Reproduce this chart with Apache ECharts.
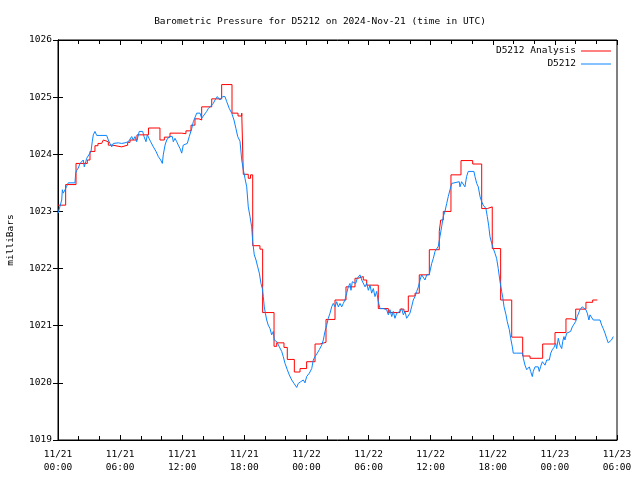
<!DOCTYPE html>
<html>
<head>
<meta charset="utf-8">
<script src="https://cdn.jsdelivr.net/npm/echarts@6/dist/echarts.min.js"></script>
<style>
html,body{margin:0;padding:0;background:#fff;}
#chart{width:640px;height:480px;}
</style>
</head>
<body>
<div id="chart"></div>
<script>
// hours since 2024-11-21 00:00 UTC
const xTickLabels = ['11/21\n00:00','11/21\n06:00','11/21\n12:00','11/21\n18:00','11/22\n00:00','11/22\n06:00','11/22\n12:00','11/22\n18:00','11/23\n00:00','11/23\n06:00'];
const yTicks = [1019,1020,1021,1022,1023,1024,1025,1026];

// D5212 Analysis (step values: [hour, mbar])
const analysisHours = [0.00,0.74,1.74,2.83,3.09,3.57,3.86,4.22,4.38,4.54,4.86,5.25,6.15,6.73,6.96,7.63,8.74,9.85,10.27,10.82,11.95,12.36,12.85,13.23,13.62,13.88,14.85,15.81,16.81,17.39,17.75,17.90,18.38,18.60,18.81,19.51,19.77,20.87,21.13,21.83,22.15,22.83,23.38,24.02,24.83,25.31,25.89,26.76,27.82,28.69,28.98,29.49,29.82,30.94,31.91,33.04,33.42,33.84,34.49,34.90,35.87,36.83,36.97,37.22,37.96,38.93,40.06,40.93,41.47,41.95,42.76,43.83,44.89,45.60,46.82,48.01,49.07,49.62,50.01,51.00,51.65,52.10];
const analysisValues = [1023.11,1023.47,1023.84,1023.90,1024.05,1024.15,1024.19,1024.22,1024.25,1024.22,1024.16,1024.13,1024.16,1024.21,1024.25,1024.34,1024.46,1024.25,1024.30,1024.37,1024.36,1024.41,1024.51,1024.62,1024.60,1024.83,1024.97,1025.22,1024.72,1024.67,1024.72,1023.65,1023.58,1023.64,1022.40,1022.34,1021.23,1020.64,1020.70,1020.62,1020.41,1020.19,1020.25,1020.37,1020.68,1020.71,1021.11,1021.45,1021.68,1021.83,1021.86,1021.80,1021.71,1021.30,1021.23,1021.29,1021.25,1021.52,1021.57,1021.89,1022.33,1022.65,1022.85,1023.00,1023.64,1023.89,1023.83,1023.05,1023.08,1022.35,1021.45,1020.80,1020.47,1020.43,1020.68,1020.88,1021.12,1021.10,1021.29,1021.41,1021.45,1021.45];

// D5212 observations
const obsHours = [0.03,0.10,0.36,0.42,0.51,0.68,0.84,0.99,1.64,1.71,1.81,1.96,2.13,2.29,2.44,2.54,2.68,2.77,2.93,3.19,3.31,3.41,3.57,3.74,4.70,4.86,5.02,5.19,5.34,5.51,5.83,6.15,6.47,6.79,6.96,7.12,7.27,7.44,7.60,7.85,8.18,8.31,8.50,8.63,8.82,8.95,9.21,9.47,9.69,9.92,10.08,10.17,10.34,10.50,10.75,10.89,11.04,11.14,11.30,11.47,11.62,11.79,11.95,12.10,12.27,12.49,12.68,12.92,13.07,13.40,13.72,13.88,14.04,14.36,14.52,14.68,15.00,15.17,15.39,15.65,15.91,16.13,16.30,16.55,16.78,17.00,17.19,17.36,17.58,17.75,17.90,18.06,18.23,18.38,18.55,18.71,18.81,18.96,19.13,19.29,19.45,19.61,19.74,19.83,19.93,20.03,20.16,20.31,20.48,20.64,20.80,20.89,21.13,21.38,21.61,21.76,21.93,22.15,22.34,22.58,22.80,23.06,23.21,23.44,23.70,23.86,24.02,24.28,24.51,24.66,24.83,25.05,25.24,25.47,25.63,25.79,25.96,26.11,26.28,26.44,26.59,26.76,26.92,27.08,27.24,27.41,27.56,27.72,27.89,28.04,28.21,28.30,28.43,28.59,28.76,28.91,29.17,29.34,29.49,29.66,29.82,29.98,30.14,30.30,30.46,30.62,30.79,30.94,31.11,31.42,31.75,31.91,32.07,32.24,32.39,32.55,32.72,33.04,33.20,33.36,33.52,33.68,33.84,34.00,34.16,34.32,34.49,34.65,34.81,34.97,35.13,35.29,35.45,35.62,35.87,36.10,36.26,36.42,36.58,36.74,36.90,37.06,37.22,37.38,37.55,37.70,37.87,38.03,38.19,38.76,38.83,38.99,39.15,39.31,39.47,39.63,40.18,40.28,40.45,40.60,40.77,40.93,41.08,41.34,41.47,41.60,41.73,41.90,42.05,42.21,42.37,42.53,42.70,42.86,42.96,43.09,43.28,43.40,43.60,43.73,43.89,43.98,44.31,44.89,44.95,45.11,45.28,45.43,45.53,45.66,45.82,45.91,46.08,46.24,46.39,46.49,46.63,46.79,46.88,47.05,47.21,47.46,47.60,47.75,47.91,48.08,48.17,48.33,48.49,48.66,48.75,48.88,48.97,49.14,49.29,49.52,49.68,49.84,50.00,50.16,50.26,50.42,50.64,50.81,51.00,51.13,51.29,51.39,51.55,51.71,52.36,52.52,52.67,52.84,53.00,53.15,53.31,53.47,53.64];
const obsValues = [1022.97,1023.03,1023.20,1023.38,1023.32,1023.38,1023.44,1023.50,1023.50,1023.67,1023.72,1023.76,1023.84,1023.87,1023.90,1023.78,1023.87,1023.93,1023.90,1024.05,1024.22,1024.34,1024.40,1024.33,1024.33,1024.25,1024.19,1024.13,1024.19,1024.16,1024.20,1024.19,1024.20,1024.22,1024.25,1024.31,1024.25,1024.31,1024.22,1024.40,1024.40,1024.31,1024.22,1024.34,1024.31,1024.22,1024.13,1024.05,1023.96,1023.90,1023.84,1023.99,1024.16,1024.25,1024.31,1024.28,1024.31,1024.22,1024.28,1024.22,1024.16,1024.10,1024.02,1024.16,1024.13,1024.19,1024.31,1024.45,1024.57,1024.72,1024.72,1024.63,1024.66,1024.75,1024.80,1024.78,1024.89,1024.95,1025.01,1024.95,1025.01,1025.01,1024.92,1024.80,1024.72,1024.60,1024.45,1024.31,1024.23,1023.90,1023.73,1023.58,1023.43,1023.08,1022.91,1022.73,1022.47,1022.24,1022.15,1022.03,1021.92,1021.74,1021.65,1021.51,1021.33,1021.22,1021.10,1021.01,1020.95,1020.84,1020.90,1020.75,1020.72,1020.63,1020.55,1020.46,1020.34,1020.23,1020.14,1020.05,1019.99,1019.92,1019.99,1020.02,1020.05,1020.00,1020.11,1020.17,1020.25,1020.40,1020.46,1020.52,1020.58,1020.66,1020.75,1020.90,1021.01,1021.13,1021.22,1021.33,1021.39,1021.33,1021.42,1021.33,1021.39,1021.33,1021.39,1021.45,1021.57,1021.68,1021.74,1021.62,1021.77,1021.80,1021.74,1021.83,1021.89,1021.80,1021.83,1021.68,1021.74,1021.62,1021.71,1021.57,1021.65,1021.51,1021.60,1021.42,1021.30,1021.30,1021.28,1021.19,1021.28,1021.16,1021.25,1021.13,1021.22,1021.25,1021.30,1021.19,1021.25,1021.13,1021.10,1021.22,1021.33,1021.45,1021.51,1021.60,1021.68,1021.80,1021.89,1021.89,1021.80,1021.89,1021.90,1022.09,1022.18,1022.30,1022.33,1022.39,1022.56,1022.73,1022.91,1023.00,1023.14,1023.26,1023.38,1023.49,1023.52,1023.52,1023.43,1023.52,1023.55,1023.43,1023.61,1023.70,1023.70,1023.61,1023.49,1023.43,1023.26,1023.17,1023.11,1023.05,1022.91,1022.76,1022.56,1022.44,1022.35,1022.27,1022.18,1022.00,1021.77,1021.60,1021.50,1021.33,1021.19,1021.07,1020.93,1020.78,1020.63,1020.52,1020.52,1020.52,1020.43,1020.31,1020.23,1020.23,1020.28,1020.20,1020.11,1020.20,1020.28,1020.27,1020.28,1020.20,1020.29,1020.37,1020.34,1020.31,1020.40,1020.40,1020.52,1020.58,1020.62,1020.69,1020.60,1020.78,1020.66,1020.60,1020.72,1020.81,1020.75,1020.87,1020.90,1020.90,1020.98,1020.95,1021.07,1021.16,1021.19,1021.28,1021.33,1021.30,1021.28,1021.22,1021.10,1021.19,1021.20,1021.10,1021.10,1021.01,1020.95,1020.87,1020.78,1020.70,1020.72,1020.75,1020.81];

const FONT = 'DejaVu Sans Mono';
const FS = 9.5;

const chart = echarts.init(document.getElementById('chart'), null, {renderer: 'canvas'});

const xCommon = {
  type: 'value', min: 0, max: 54, interval: 6,
  axisLine: {show: true, lineStyle: {color: '#000', width: 1}},
  axisTick: {show: true, inside: true, length: 5, lineStyle: {color: '#000'}},
  minorTick: {show: true, splitNumber: 3, length: 4, lineStyle: {color: '#000'}},
  splitLine: {show: false}
};
const yCommon = {
  type: 'value', min: yTicks[0], max: yTicks[yTicks.length - 1], interval: 1,
  axisLine: {show: true, lineStyle: {color: '#000', width: 1}},
  axisTick: {show: true, inside: true, length: 5, lineStyle: {color: '#000'}},
  splitLine: {show: false}
};

chart.setOption({
  animation: false,
  backgroundColor: '#fff',
  title: {
    text: 'Barometric Pressure for D5212 on 2024-Nov-21 (time in UTC)',
    left: 'center', top: 12,
    textStyle: {fontFamily: FONT, fontSize: FS, fontWeight: 'normal', color: '#000'}
  },
  legend: {
    right: 24, top: 41, orient: 'vertical', align: 'right',
    itemWidth: 30, itemHeight: 1, itemGap: 3, icon: 'rect',
    textStyle: {fontFamily: FONT, fontSize: FS, color: '#000'},
    data: ['D5212 Analysis', 'D5212']
  },
  grid: {left: 58, right: 23, top: 40, bottom: 40, show: true, borderColor: '#000', borderWidth: 1,
         containLabel: false, outerBoundsMode: 'none'},
  xAxis: [
    Object.assign({}, xCommon, {
      position: 'bottom',
      axisLabel: {
        fontFamily: FONT, fontSize: FS, color: '#000', margin: 8, lineHeight: 13,
        formatter: function (v) { const i = Math.round(v / 6); return xTickLabels[i] || ''; }
      }
    }),
    Object.assign({}, xCommon, {position: 'top', axisLabel: {show: false}})
  ],
  yAxis: [
    Object.assign({}, yCommon, {
      position: 'left',
      name: 'milliBars', nameLocation: 'middle', nameGap: 42, nameRotate: 90,
      nameTextStyle: {fontFamily: FONT, fontSize: FS, color: '#000'},
      axisLabel: {fontFamily: FONT, fontSize: FS, color: '#000', margin: 6,
        formatter: function (v) { return String(v); }}
    }),
    Object.assign({}, yCommon, {position: 'right', axisLabel: {show: false}})
  ],
  series: [
    {
      name: 'D5212 Analysis', type: 'line', step: 'end', symbol: 'none',
      color: '#ff0000',
      lineStyle: {color: '#ff0000', width: 1},
      data: analysisHours.map((h, i) => [h, analysisValues[i]]),
      z: 2
    },
    {
      name: 'D5212', type: 'line', symbol: 'none',
      color: '#0a84ff',
      lineStyle: {color: '#0a84ff', width: 1},
      data: obsHours.map((h, i) => [h, obsValues[i]]),
      z: 3
    }
  ]
});
</script>
</body>
</html>
